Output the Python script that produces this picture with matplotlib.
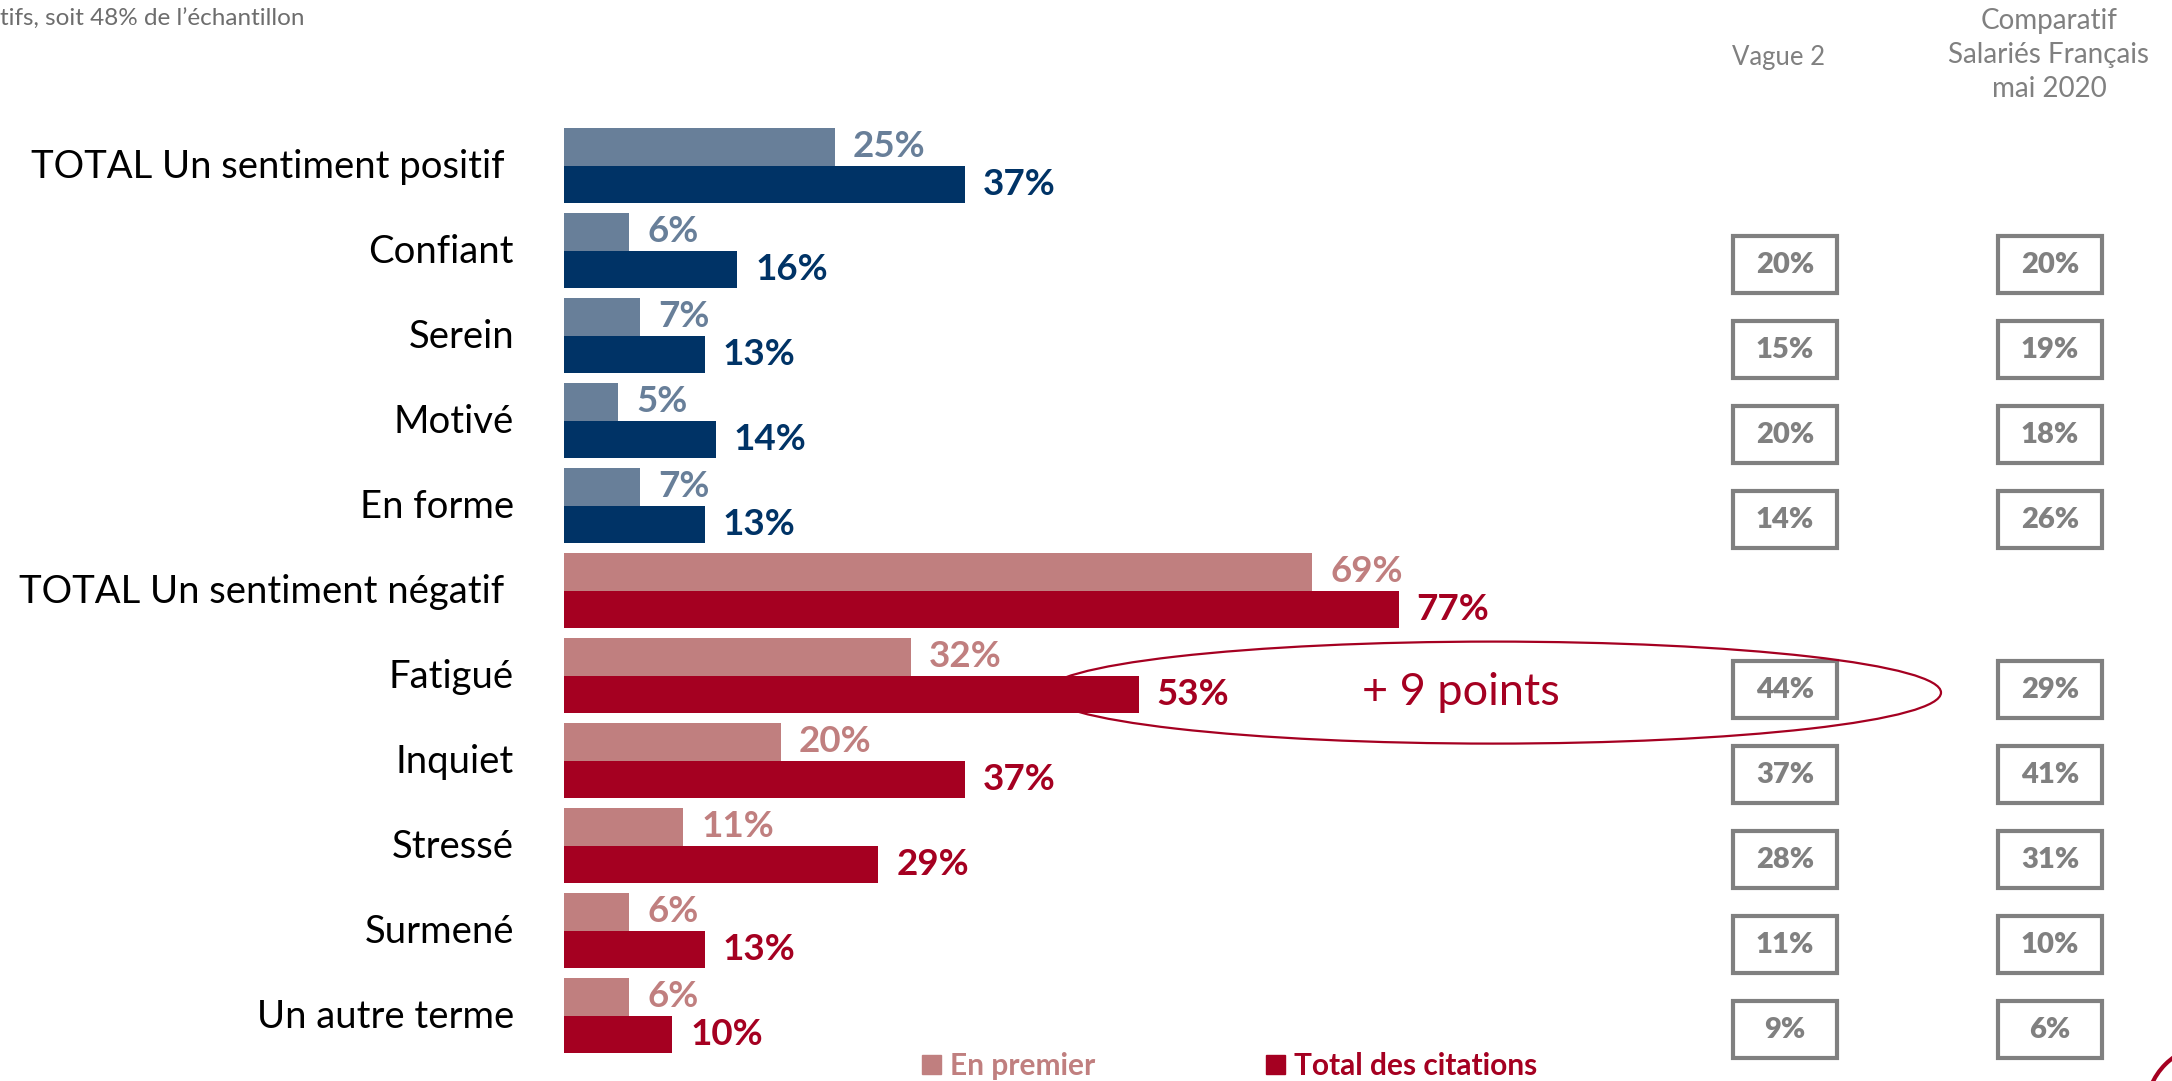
import matplotlib.pyplot as plt
from matplotlib.patches import Rectangle, Ellipse, Patch, Circle
import matplotlib.transforms as mtransforms

plt.rcParams['font.family'] = ['Lato', 'DejaVu Sans']

categories = ['TOTAL Un sentiment positif ', 'Confiant', 'Serein', 'Motivé', 'En forme',
              'TOTAL Un sentiment négatif ', 'Fatigué', 'Inquiet', 'Stressé', 'Surmené',
              'Un autre terme']
en_premier = [25, 6, 7, 5, 7, 69, 32, 20, 11, 6, 6]
total_citations = [37, 16, 13, 14, 13, 77, 53, 37, 29, 13, 10]
vague2 = [None, 20, 15, 20, 14, None, 44, 37, 28, 11, 9]
comparatif = [None, 20, 19, 18, 26, None, 29, 41, 31, 10, 6]
n_positive = 5

pos_first, pos_total = '#687F99', '#003366'
neg_first, neg_total = '#C07F7F', '#A50021'
grey = '#808080'

W, H = 2172, 1081
fig = plt.figure(figsize=(W / 100, H / 100), dpi=100)
ax = fig.add_axes([564 / W, 0, 1 - 564 / W, 1])
ax.set_xlim(0, (W - 564) / 10.84)
ax.set_ylim((H - 165.6) / 85, -165.6 / 85)
ax.axis('off')

bh = 0.441
for i, cat in enumerate(categories):
    c1, c2 = (pos_first, pos_total) if i < n_positive else (neg_first, neg_total)
    ax.barh(i - bh / 2, en_premier[i], height=bh, color=c1)
    ax.barh(i + bh / 2, total_citations[i], height=bh, color=c2)
    ax.annotate(f'{en_premier[i]}%', (en_premier[i], i - bh / 2), xytext=(13, 0),
                textcoords='offset points', va='center', ha='left',
                fontsize=26.5, fontweight='bold', color=c1)
    ax.annotate(f'{total_citations[i]}%', (total_citations[i], i + bh / 2), xytext=(13, 0),
                textcoords='offset points', va='center', ha='left',
                fontsize=26.5, fontweight='bold', color=c2)
    ax.annotate(cat, (0, i), xytext=(-36, -1), textcoords='offset points',
                va='center', ha='right', fontsize=27.5, color='black')

# comparison boxes (x in figure fraction, y in rows)
blend = mtransforms.blended_transform_factory(fig.transFigure, ax.transData)
bw, bhh = 104 / W, 57 / 85
for col_x, vals in [(1785 / W, vague2), (2050 / W, comparatif)]:
    for i, v in enumerate(vals):
        if v is None:
            continue
        yc = i + 0.165
        ax.add_patch(Rectangle((col_x - bw / 2, yc - bhh / 2), bw, bhh, transform=blend,
                               fill=False, edgecolor=grey, linewidth=3, clip_on=False))
        ax.text(col_x, yc, f'{v}%', transform=blend, ha='center', va='center',
                fontsize=21, fontweight='heavy', color=grey)

fig.text(1778 / W, 1 - 57 / H, 'Vague 2', ha='center', va='center', fontsize=18.5, color=grey)
fig.text(2049 / W, 1 - 55 / H, 'Comparatif\nSalariés Français\nmai 2020', ha='center',
         va='center', fontsize=20, color=grey, linespacing=1.38)
fig.text(0, 1 - 19 / H, 'tifs, soit 48% de l’échantillon', ha='left', va='center',
         fontsize=17.5, color='#6d6d6d')

# highlight around Fatigué
ax.add_patch(Ellipse((1493 / W, 6.2), 896 / W, 102 / 85, transform=blend, fill=False,
                     edgecolor=neg_total, linewidth=1.6, clip_on=False))
ax.text(1461 / W, 6.2, '+ 9 points', transform=blend, ha='center', va='center',
        fontsize=32.5, color=neg_total)

# logo fragment bottom right
fig.patches.append(Circle((2212, -30), 66, transform=None, fill=False,
                          edgecolor=neg_total, linewidth=3))

leg = fig.legend(handles=[Patch(color=neg_first), Patch(color=neg_total)],
                 labels=['En premier', 'Total des citations'], ncol=2, frameon=False,
                 loc='center left', bbox_to_anchor=(922 / W, 1 - 1066 / H),
                 borderaxespad=0, borderpad=0, handlelength=0.65, handleheight=0.65,
                 handletextpad=0.3, columnspacing=5.7,
                 labelcolor=[neg_first, neg_total],
                 prop={'size': 21.5, 'weight': 'bold'})

fig.savefig('out.png', dpi=100)
